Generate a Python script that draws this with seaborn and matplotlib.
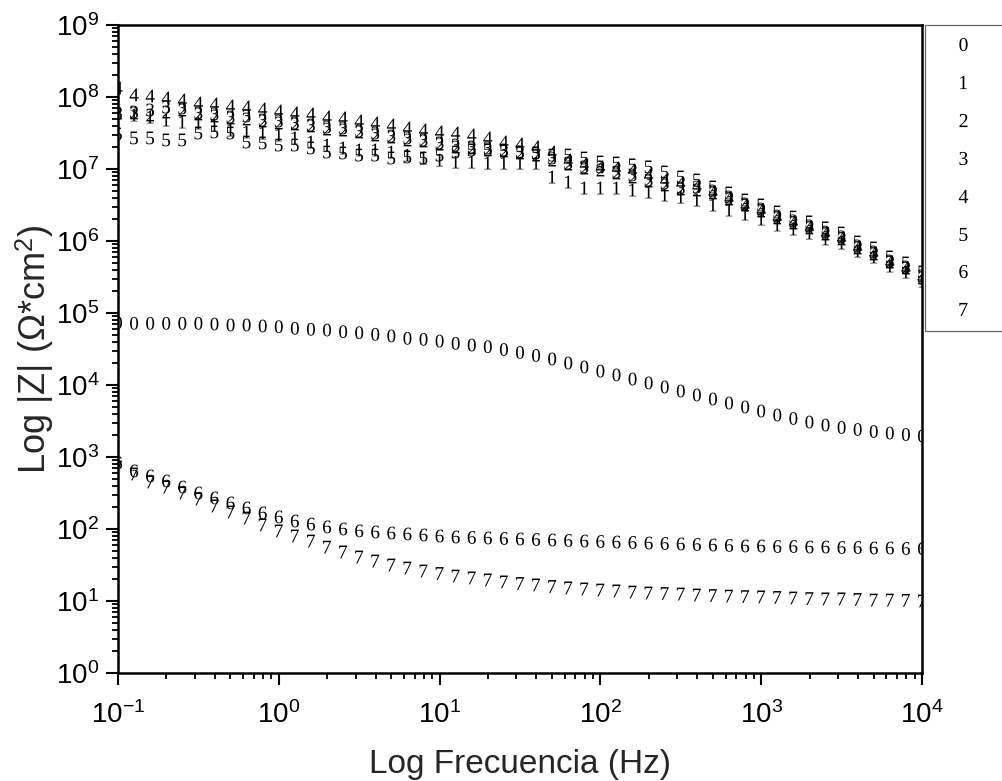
import numpy as np
import pandas as pd
import matplotlib
matplotlib.use("Agg")
import matplotlib.pyplot as plt
from matplotlib.lines import Line2D
import seaborn as sns

# ---------------- data ----------------
freq = [0.1, 0.1259, 0.1585, 0.1995, 0.2512, 0.3162, 0.3981, 0.5012, 0.631, 0.7943,
        1.0, 1.259, 1.585, 1.995, 2.512, 3.162, 3.981, 5.012, 6.31, 7.943,
        10.0, 12.59, 15.85, 19.95, 25.12, 31.62, 39.81, 50.12, 63.1, 79.43,
        100.0, 125.9, 158.5, 199.5, 251.2, 316.2, 398.1, 501.2, 631.0, 794.3,
        1000.0, 1259.0, 1585.0, 1995.0, 2512.0, 3162.0, 3981.0, 5012.0, 6310.0, 7943.0,
        10000.0]

z0 = [7.33e4, 7.19e4, 7.19e4, 7.19e4, 7.19e4, 7.19e4, 7.03e4, 6.81e4, 6.81e4, 6.6e4,
      6.45e4, 6.13e4, 5.94e4, 5.8e4, 5.5e4, 5.32e4, 5.06e4, 4.8e4, 4.45e4, 4.31e4,
      4.08e4, 3.79e4, 3.59e4, 3.4e4, 3.11e4, 2.83e4, 2.57e4, 2.3e4, 2.02e4, 1.78e4,
      1.56e4, 1.38e4, 1.21e4, 1.07e4, 9.38e3, 8.25e3, 7.27e3, 6.39e3, 5.62e3, 4.95e3,
      4.35e3, 3.83e3, 3.43e3, 3.06e3, 2.78e3, 2.57e3, 2.41e3, 2.26e3, 2.15e3, 2.05e3,
      1.96e3]
z1 = [6.0e7, 5.62e7, 5.27e7, 4.79e7, 4.5e7, 4.36e7, 4.08e7, 3.48e7, 3.27e7, 3.16e7,
      2.97e7, 2.70e7, 2.37e7, 2.15e7, 1.96e7, 1.84e7, 1.84e7, 1.72e7, 1.56e7, 1.42e7,
      1.33e7, 1.25e7, 1.25e7, 1.21e7, 1.21e7, 1.21e7, 1.21e7, 7.74e6, 6.6e6, 5.45e6,
      5.45e6, 5.45e6, 5.11e6, 4.79e6, 4.36e6, 4.08e6, 3.71e6, 3.16e6, 2.70e6, 2.37e6,
      2.02e6, 1.67e6, 1.47e6, 1.29e6, 1.07e6, 9.38e5, 7.26e5, 6.0e5, 4.5e5, 3.71e5,
      2.78e5]
z2 = [6.0e7, 6.0e7, 5.62e7, 6.19e7, 6.6e7, 5.81e7, 5.45e7, 5.11e7, 4.95e7, 4.64e7,
      4.36e7, 4.22e7, 3.96e7, 3.59e7, 3.48e7, 3.27e7, 2.97e7, 2.78e7, 2.53e7, 2.45e7,
      2.22e7, 2.02e7, 1.96e7, 1.84e7, 1.78e7, 1.67e7, 1.56e7, 1.33e7, 1.17e7, 1.03e7,
      9.68e6, 8.8e6, 7.74e6, 6.81e6, 6.0e6, 5.27e6, 5.11e6, 4.64e6, 3.83e6, 3.16e6,
      2.61e6, 2.09e6, 1.78e6, 1.52e6, 1.25e6, 1.07e6, 8.0e5, 6.6e5, 5.11e5, 4.22e5,
      3.06e5]
z3 = [6.0e7, 6.19e7, 6.6e7, 7.26e7, 7.03e7, 6.0e7, 5.81e7, 5.27e7, 5.45e7, 4.79e7,
      4.64e7, 4.36e7, 4.08e7, 3.83e7, 3.71e7, 3.37e7, 3.16e7, 2.87e7, 2.70e7, 2.53e7,
      2.30e7, 2.15e7, 2.02e7, 1.96e7, 1.84e7, 1.72e7, 1.67e7, 1.42e7, 1.21e7, 1.07e7,
      1.07e7, 9.08e6, 8.25e6, 7.03e6, 6.39e6, 5.45e6, 5.62e6, 4.95e6, 4.08e6, 3.27e6,
      2.78e6, 2.22e6, 1.90e6, 1.62e6, 1.33e6, 1.14e6, 8.53e5, 7.03e5, 5.27e5, 4.36e5,
      3.27e5]
z4 = [1.33e8, 1.07e8, 1.03e8, 9.68e7, 9.08e7, 8.25e7, 8.0e7, 7.5e7, 7.26e7, 6.81e7,
      6.39e7, 6.0e7, 5.81e7, 5.27e7, 5.11e7, 4.64e7, 4.36e7, 4.08e7, 3.71e7, 3.48e7,
      3.27e7, 3.16e7, 2.97e7, 2.70e7, 2.37e7, 2.22e7, 2.02e7, 1.72e7, 1.33e7, 1.17e7,
      1.07e7, 1.03e7, 9.68e6, 8.25e6, 7.03e6, 6.39e6, 5.81e6, 4.79e6, 3.96e6, 3.16e6,
      2.70e6, 2.15e6, 1.84e6, 1.56e6, 1.29e6, 1.10e6, 8.25e5, 6.81e5, 5.11e5, 4.22e5,
      3.16e5]
z5 = [3.06e7, 2.70e7, 2.70e7, 2.53e7, 2.53e7, 3.16e7, 3.27e7, 3.16e7, 2.37e7, 2.30e7,
      2.15e7, 2.15e7, 1.96e7, 1.72e7, 1.67e7, 1.56e7, 1.56e7, 1.42e7, 1.47e7, 1.42e7,
      1.56e7, 1.72e7, 1.84e7, 1.84e7, 1.78e7, 1.72e7, 1.67e7, 1.56e7, 1.56e7, 1.42e7,
      1.25e7, 1.21e7, 1.14e7, 1.07e7, 9.08e6, 7.74e6, 7.03e6, 5.62e6, 4.64e6, 3.71e6,
      3.16e6, 2.53e6, 2.15e6, 1.84e6, 1.52e6, 1.29e6, 9.68e5, 8.0e5, 6.0e5, 4.95e5,
      3.71e5]
z6 = [826, 640, 545, 464, 383, 316, 270, 230, 196, 167,
      147, 129, 117, 107, 100, 94, 91, 88, 85.3, 82.5,
      79.9, 77.4, 76.2, 75.0, 73.8, 72.6, 71.5, 70.3, 69.2, 68.1,
      67.0, 65.9, 65.0, 63.9, 62.9, 61.9, 60.9, 59.9, 59.0, 58.1,
      58.1, 57.1, 57.1, 56.2, 56.2, 55.3, 55.3, 54.4, 54.4, 53.6,
      53.6]
z7 = [726, 581, 450, 383, 316, 261, 209, 172, 142, 114,
      94, 80, 68, 56, 48, 40.8, 35.9, 31.6, 28.7, 26.1,
      24.1, 22.2, 20.9, 19.6, 18.4, 17.5, 16.7, 15.9, 15.2, 14.7,
      14.2, 13.8, 13.3, 12.9, 12.7, 12.5, 12.1, 11.9, 11.7, 11.5,
      11.4, 11.2, 11.0, 10.8, 10.7, 10.7, 10.5, 10.3, 10.3, 10.2,
      10.0]

series_names = ["0", "1", "2", "3", "4", "5", "6", "7"]
series_values = [z0, z1, z2, z3, z4, z5, z6, z7]

x_ticks = [1e-1, 1e0, 1e1, 1e2, 1e3, 1e4]
y_ticks = [1e0, 1e1, 1e2, 1e3, 1e4, 1e5, 1e6, 1e7, 1e8, 1e9]
x_label = "Log Frecuencia (Hz)"
y_label = r"Log |Z| (Ω*cm$^{\mathdefault{2}}$)"

# ---------------- styling ----------------
sns.set_style("white")
plt.rcParams["font.family"] = ["Liberation Sans", "DejaVu Sans"]
plt.rcParams["mathtext.fontset"] = "custom"
plt.rcParams["mathtext.rm"] = "Liberation Serif"
plt.rcParams["mathtext.it"] = "Liberation Serif:italic"
plt.rcParams["mathtext.bf"] = "Liberation Serif:bold"
plt.rcParams["axes.unicode_minus"] = False

df = pd.DataFrame({
    "freq": np.tile(freq, len(series_names)),
    "Z": np.concatenate([np.asarray(v, dtype=float) for v in series_values]),
    "serie": np.repeat(series_names, len(freq)),
})

markers = {k: r"$\mathrm{%s}$" % k for k in series_names}

fig = plt.figure(figsize=(10.03, 7.81), dpi=100)
ax = fig.add_axes([118 / 1003, 1 - 673 / 781, (922 - 118) / 1003, (673 - 25) / 781])

sns.scatterplot(data=df, x="freq", y="Z", hue="serie", style="serie",
                markers=markers, palette=["black"] * 8, s=85,
                linewidth=0, legend=False, ax=ax)

ax.set_xscale("log")
ax.set_yscale("log")
ax.set_xlim(1e-1, 1e4)
ax.set_ylim(1e0, 1e9)
ax.set_xticks(x_ticks)
ax.set_yticks(y_ticks)
ax.yaxis.set_minor_locator(matplotlib.ticker.LogLocator(base=10, subs=np.arange(2, 10), numticks=20))
ax.xaxis.set_minor_locator(matplotlib.ticker.LogLocator(base=10, subs=np.arange(2, 10), numticks=20))
ax.yaxis.set_minor_formatter(matplotlib.ticker.NullFormatter())
ax.xaxis.set_minor_formatter(matplotlib.ticker.NullFormatter())

for sp in ax.spines.values():
    sp.set_visible(True)
    sp.set_linewidth(1.8)
    sp.set_color("black")

ax.tick_params(which="major", direction="out", length=8.5, width=1.5, labelsize=20,
               left=True, bottom=True, top=False, right=False, colors="black", pad=5)
ax.tick_params(which="minor", direction="out", length=4, width=1.3,
               left=True, bottom=True, top=False, right=False, colors="black")
ax.tick_params(axis="x", which="major", pad=12)

ax.set_xlabel(x_label, fontsize=24, labelpad=14)
ax.set_ylabel(y_label, fontsize=26, labelpad=0)

handles = [Line2D([], [], linestyle="", marker=markers[k], color="black",
                  markersize=9.5, markeredgewidth=0) for k in series_names]
leg = fig.legend(handles, [" "] * len(handles), loc="upper left",
                 bbox_to_anchor=(925 / 1003, 1 - 25 / 781), bbox_transform=fig.transFigure,
                 borderaxespad=0, fontsize=12, labelspacing=1.37, borderpad=0.8,
                 handlelength=2.97, handletextpad=0.8, frameon=True, fancybox=False,
                 framealpha=1, edgecolor="#666666")
leg.get_frame().set_linewidth(0.9)

fig.savefig("out.png", dpi=100)
